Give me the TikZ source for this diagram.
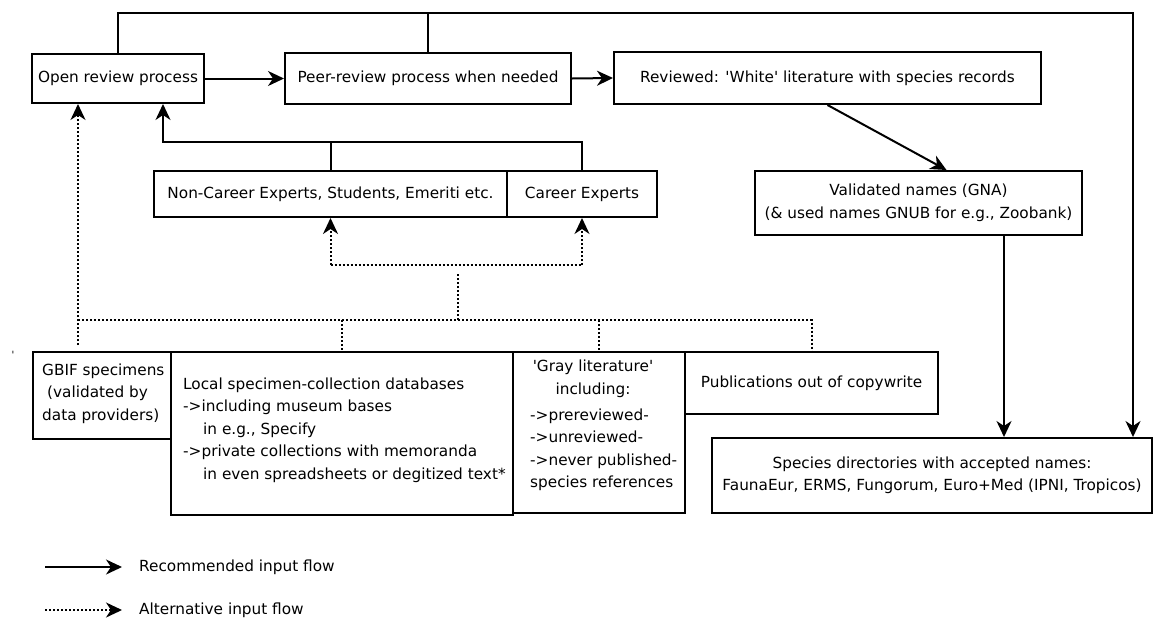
\documentclass[tikz,border=0pt]{standalone}
\usepackage{fontspec}
\setmainfont{DejaVu Sans}[Ligatures=TeXOff]
\usetikzlibrary{arrows.meta}
\begin{document}
\begin{tikzpicture}[x=1pt,y=-1pt,
  every node/.style={font=\fontsize{15.3}{22.5}\selectfont, inner sep=0pt},
  box/.style={draw, line width=2pt},
  ln/.style={line width=2pt},
  arr/.style={ln, -{Stealth[length=16pt,width=15pt,inset=5pt]}},
  dot/.style={line width=2pt, dash pattern=on 2pt off 2pt},
  darr/.style={dot, -{Stealth[length=16pt,width=15pt,inset=5pt]}}]
\useasboundingbox (0,0) rectangle (1158,622);

% boxes
\node[box, minimum width=172pt, minimum height=49pt] (open) at (118,78.5) {Open review process};
\node[box, minimum width=286pt, minimum height=51pt] (peer) at (428,78.5) {Peer-review process when needed};
\node[box, minimum width=427pt, minimum height=52pt] (rev) at (827.5,78) {Reviewed: 'White' literature with species records};
\node[box, minimum width=353pt, minimum height=46pt] (nce) at (330.5,194) {Non-Career Experts, Students, Emeriti etc.};
\node[box, minimum width=150pt, minimum height=46pt] (ce) at (582,194) {Career Experts};
\node[box, minimum width=327pt, minimum height=64pt, align=center] (val) at (918.5,203) {Validated names (GNA)\\(\& used names GNUB for e.g., Zoobank)};
\node[box, minimum width=138pt, minimum height=87pt] (gbif) at (102,395.5) {};
\node[anchor=west, align=left] (gbift) at (42,393.5) {GBIF specimens\\\hspace*{5pt}(validated by\\data providers)};
\node[box, minimum width=342pt, minimum height=163pt] (loc) at (342,433.5) {};
\node[anchor=west, align=left] (loct) at (183,430) {Local specimen-collection databases\\->including museum bases\\\hspace*{20pt}in e.g., Specify\\->private collections with memoranda\\\hspace*{20pt}in even spreadsheets or degitized text*};
\node[box, minimum width=172pt, minimum height=161pt] (gray) at (599,432.5) {};
\node[align=center] (grayt) at (593,379) {'Gray literature'\\including:};
\node[anchor=west, align=left] (grayl) at (530,450) {->prereviewed-\\->unreviewed-\\->never published-\\species references};
\node[box, minimum width=253pt, minimum height=62pt] (pub) at (811.5,383) {Publications out of copywrite};
\node[box, minimum width=440pt, minimum height=75pt, align=center] (spec) at (932,475.5) {Species directories with accepted names:\\FaunaEur, ERMS, Fungorum, Euro+Med (IPNI, Tropicos)};
\node (tick) at (13,355) {\fontsize{10}{10}\selectfont '};

% solid connectors
\coordinate (tr) at (1133,13);
\draw[arr] (open.north) |- (tr) -- (tr |- spec.north);
\draw[ln] (peer.north) -- (peer.north |- tr);
\draw[arr] (open.east) -- (peer.west);
\draw[arr] (peer.east) -- (rev.west);
\draw[arr] (rev.south) -- ([xshift=28pt]val.north);
\draw[arr] ([xshift=85.5pt]val.south) -- ([xshift=72pt]spec.north);
\coordinate (ej) at (163,142);
\draw[arr] (ce.north) |- (ej) -- (ej |- open.south);
\draw[ln] (nce.north) -- (nce.north |- ej);

% dotted connectors
\coordinate (g0) at (78,345);
\coordinate (dh) at (78,320);
\draw[darr] (g0) -- (g0 |- open.south);
\draw[dot] (dh) -- (dh -| pub.north) -- (pub.north);
\draw[dot] (loc.north |- dh) -- (loc.north);
\draw[dot] (gray.north |- dh) -- (gray.north);
\coordinate (dj) at (458,265);
\coordinate (dj1) at (458,273);
\draw[dot] (dj1 |- dh) -- (dj1);
\draw[dot] (dj -| nce.south) -- (dj -| ce.south);
\draw[darr] (dj -| nce.south) -- (nce.south);
\draw[darr] (dj -| ce.south) -- (ce.south);

% legend
\coordinate (l1a) at (45,567); \coordinate (l1b) at (122,567);
\coordinate (l2a) at (45,610); \coordinate (l2b) at (122,610);
\draw[arr] (l1a) -- (l1b);
\draw[darr] (l2a) -- (l2b);
\node[anchor=west] (l1t) at (139,567) {Recommended input flow};
\node[anchor=west] (l2t) at (139,610) {Alternative input flow};
\end{tikzpicture}
\end{document}
